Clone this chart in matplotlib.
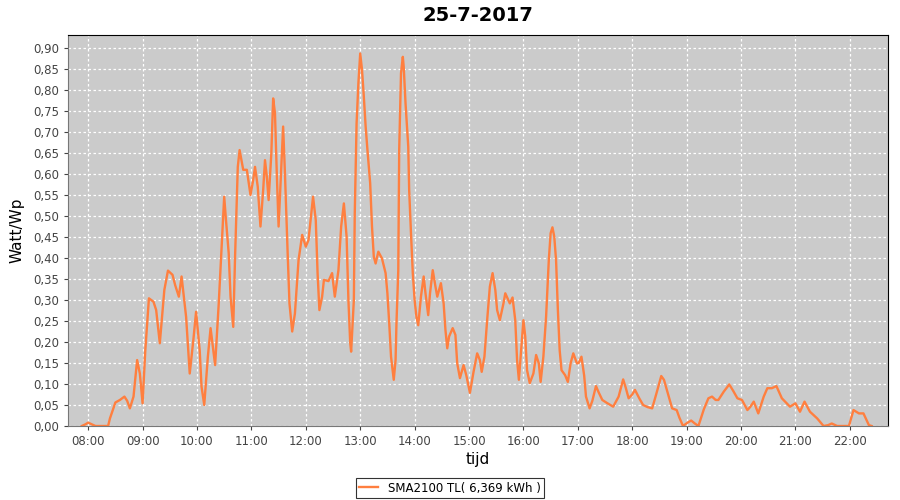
import matplotlib
matplotlib.use("Agg")
import matplotlib.pyplot as plt
from matplotlib.ticker import FuncFormatter, MultipleLocator

# clock time (HH:MM) and output in Watt/Wp
times = ["07:53", "07:57", "08:00", "08:04", "08:08", "08:22", "08:24", "08:30", "08:35", "08:40",
         "08:43", "08:46", "08:50", "08:54", "08:57", "09:00", "09:03", "09:07", "09:12", "09:15",
         "09:19", "09:24", "09:28", "09:33", "09:36", "09:40", "09:43", "09:48", "09:52", "09:56",
         "09:59", "10:03", "10:05", "10:08", "10:12", "10:15", "10:18", "10:20", "10:24", "10:27",
         "10:30", "10:32", "10:35", "10:37", "10:40", "10:42", "10:45", "10:47", "10:51", "10:55",
         "10:59", "11:02", "11:04", "11:07", "11:10", "11:13", "11:15", "11:17", "11:19", "11:22",
         "11:24", "11:26", "11:28", "11:30", "11:33", "11:35", "11:37", "11:40", "11:42", "11:45",
         "11:48", "11:52", "11:56", "12:00", "12:03", "12:06", "12:08", "12:11", "12:13", "12:15",
         "12:18", "12:20", "12:25", "12:29", "12:32", "12:36", "12:39", "12:42", "12:45", "12:47",
         "12:49", "12:50", "12:53", "12:54", "12:56", "12:58", "13:00", "13:02", "13:04", "13:06",
         "13:08", "13:11", "13:13", "13:15", "13:17", "13:20", "13:24", "13:28", "13:30", "13:32",
         "13:34", "13:37", "13:39", "13:40", "13:42", "13:43", "13:45", "13:47", "13:48", "13:50",
         "13:53", "13:54", "13:56", "13:58", "14:00", "14:02", "14:04", "14:07", "14:10", "14:12",
         "14:15", "14:17", "14:20", "14:23", "14:25", "14:29", "14:32", "14:34", "14:36", "14:38",
         "14:42", "14:45", "14:47", "14:50", "14:54", "14:57", "15:01", "15:05", "15:09", "15:12",
         "15:14", "15:17", "15:20", "15:23", "15:26", "15:29", "15:31", "15:34", "15:38", "15:40",
         "15:45", "15:48", "15:51", "15:53", "15:55", "15:58", "16:00", "16:02", "16:04", "16:07",
         "16:11", "16:14", "16:17", "16:19", "16:22", "16:25", "16:28", "16:30", "16:32", "16:34",
         "16:36", "16:38", "16:40", "16:42", "16:46", "16:49", "16:52", "16:55", "16:59", "17:01",
         "17:04", "17:07", "17:09", "17:13", "17:16", "17:20", "17:23", "17:27", "17:32", "17:39",
         "17:45", "17:50", "17:53", "17:56", "18:00", "18:03", "18:08", "18:12", "18:17", "18:22",
         "18:27", "18:32", "18:35", "18:39", "18:44", "18:49", "18:52", "18:56", "19:01", "19:05",
         "19:09", "19:13", "19:19", "19:24", "19:28", "19:32", "19:35", "19:41", "19:47", "19:51",
         "19:56", "20:01", "20:07", "20:10", "20:14", "20:19", "20:25", "20:29", "20:34", "20:39",
         "20:45", "20:50", "20:54", "21:00", "21:05", "21:10", "21:16", "21:24", "21:31", "21:36",
         "21:40", "21:46", "21:59", "22:04", "22:10", "22:15", "22:21", "22:24"]
watt_wp = [0.0, 0.004, 0.008, 0.004, 0.0, 0.0, 0.018, 0.056, 0.062, 0.070,
           0.060, 0.042, 0.070, 0.157, 0.125, 0.054, 0.180, 0.304, 0.296, 0.276,
           0.197, 0.324, 0.370, 0.360, 0.335, 0.308, 0.356, 0.260, 0.125, 0.205,
           0.272, 0.180, 0.094, 0.050, 0.165, 0.233, 0.180, 0.145, 0.292, 0.419,
           0.546, 0.490, 0.411, 0.308, 0.236, 0.403, 0.617, 0.657, 0.610, 0.610,
           0.550, 0.586, 0.617, 0.570, 0.475, 0.562, 0.633, 0.594, 0.538, 0.649,
           0.780, 0.745, 0.602, 0.475, 0.617, 0.713, 0.602, 0.411, 0.292, 0.225,
           0.268, 0.395, 0.455, 0.427, 0.443, 0.506, 0.546, 0.490, 0.364, 0.276,
           0.308, 0.348, 0.345, 0.364, 0.308, 0.371, 0.475, 0.530, 0.451, 0.300,
           0.197, 0.177, 0.300, 0.506, 0.720, 0.816, 0.887, 0.848, 0.784, 0.713,
           0.657, 0.578, 0.475, 0.403, 0.387, 0.415, 0.399, 0.364, 0.316, 0.245,
           0.165, 0.110, 0.157, 0.245, 0.371, 0.657, 0.840, 0.879, 0.855, 0.768,
           0.665, 0.562, 0.459, 0.364, 0.300, 0.260, 0.240, 0.308, 0.356, 0.316,
           0.264, 0.316, 0.371, 0.332, 0.308, 0.340, 0.292, 0.229, 0.185, 0.213,
           0.233, 0.217, 0.149, 0.114, 0.145, 0.121, 0.079, 0.129, 0.173, 0.157,
           0.129, 0.165, 0.252, 0.332, 0.364, 0.324, 0.276, 0.252, 0.292, 0.316,
           0.292, 0.306, 0.252, 0.157, 0.110, 0.197, 0.252, 0.213, 0.133, 0.102,
           0.125, 0.169, 0.149, 0.105, 0.165, 0.260, 0.395, 0.459, 0.473, 0.451,
           0.395, 0.276, 0.180, 0.133, 0.121, 0.105, 0.149, 0.173, 0.149, 0.150,
           0.165, 0.120, 0.070, 0.042, 0.060, 0.095, 0.080, 0.062, 0.055, 0.046,
           0.070, 0.111, 0.090, 0.066, 0.075, 0.086, 0.065, 0.050, 0.045, 0.042,
           0.080, 0.119, 0.110, 0.080, 0.042, 0.038, 0.020, 0.0, 0.008, 0.013,
           0.006, 0.0, 0.040, 0.066, 0.070, 0.062, 0.062, 0.082, 0.099, 0.085,
           0.066, 0.062, 0.038, 0.045, 0.058, 0.030, 0.070, 0.090, 0.090, 0.095,
           0.066, 0.055, 0.046, 0.054, 0.034, 0.058, 0.034, 0.018, 0.0, 0.002,
           0.006, 0.0, 0.0, 0.038, 0.030, 0.030, 0.002, 0.0]

tick_hours = list(range(8, 23))
series_label = "SMA2100 TL( 6,369 kWh )"

# convert HH:MM to decimal hours
hours = [int(t[:2]) + int(t[3:]) / 60 for t in times]

fig = plt.figure(figsize=(9, 5), dpi=100)
ax = fig.add_axes([0.0756, 0.148, 0.911, 0.782])
ax.set_facecolor("#cbcbcb")

ax.plot(hours, watt_wp, color="#ff7f3f", linewidth=1.7, label=series_label)

ax.set_xlim(7.63, 22.70)
ax.set_ylim(0, 0.931)
ax.set_xticks(tick_hours)
ax.xaxis.set_major_formatter(FuncFormatter(lambda v, p: "%02d:00" % int(round(v))))
ax.yaxis.set_major_locator(MultipleLocator(0.05))
ax.yaxis.set_major_formatter(FuncFormatter(lambda v, p: ("%.2f" % v).replace(".", ",")))

ax.grid(True, color="white", linestyle=(0, (2, 2)), linewidth=0.9)
ax.set_axisbelow(True)
ax.tick_params(labelsize=8.5, colors="#444444", length=3, width=0.8)
for s in ["top", "right"]:
    ax.spines[s].set_color("black")
    ax.spines[s].set_linewidth(0.8)
for s in ["left", "bottom"]:
    ax.spines[s].set_color("#777777")
    ax.spines[s].set_linewidth(0.8)

ax.set_title("25-7-2017", fontsize=14, fontweight="bold", pad=10)
ax.set_xlabel("tijd", fontsize=11, labelpad=3)
ax.set_ylabel("Watt/Wp", fontsize=11, labelpad=6)

leg = fig.legend(loc="lower center", bbox_to_anchor=(0.5, -0.008), fontsize=8.5,
                 frameon=True, fancybox=False, edgecolor="black", handlelength=1.6,
                 borderpad=0.3)
leg.get_frame().set_linewidth(0.8)

fig.savefig("out.png", dpi=100)
